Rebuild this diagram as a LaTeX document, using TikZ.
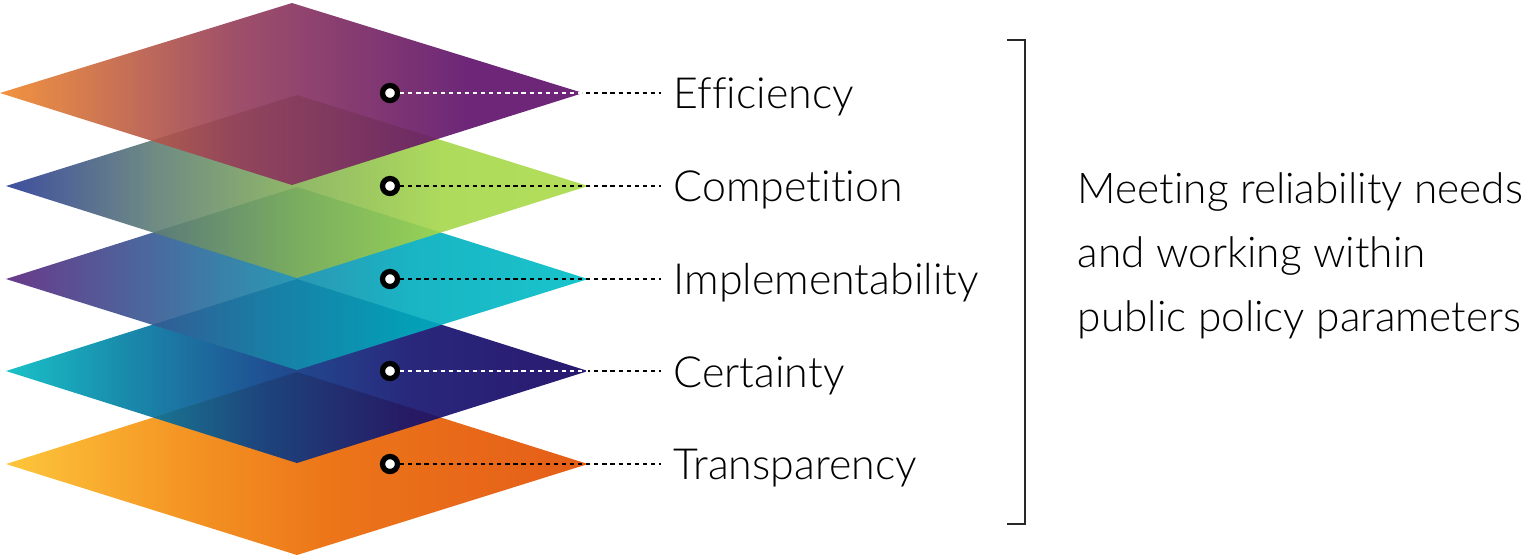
\documentclass[tikz,border=0pt]{standalone}
\usepackage{fontspec}
\setmainfont{Lato Light}[Ligatures=NoCommon]
\usepackage{tikz}
\usetikzlibrary{positioning}

\definecolor{effL}{RGB}{240,136,43}
\definecolor{effM}{RGB}{149,61,89}
\definecolor{effR}{RGB}{94,16,105}
\definecolor{comL}{RGB}{41,59,149}
\definecolor{comA}{RGB}{94,125,119}
\definecolor{comM}{RGB}{132,176,87}
\definecolor{comB}{RGB}{165,215,74}
\definecolor{comR}{RGB}{169,218,72}
\definecolor{impL}{RGB}{89,36,125}
\definecolor{impA}{RGB}{54,89,147}
\definecolor{impM}{RGB}{25,132,167}
\definecolor{impB}{RGB}{0,173,190}
\definecolor{impR}{RGB}{0,190,198}
\definecolor{cerL}{RGB}{0,187,194}
\definecolor{cerA}{RGB}{0,127,163}
\definecolor{cerM}{RGB}{7,60,134}
\definecolor{cerB}{RGB}{18,16,109}
\definecolor{cerR}{RGB}{18,0,96}
\definecolor{trnL}{RGB}{253,192,38}
\definecolor{trnA}{RGB}{243,138,12}
\definecolor{trnM}{RGB}{234,103,0}
\definecolor{trnR}{RGB}{225,76,0}
\definecolor{bracketgray}{RGB}{40,40,40}

\pgfdeclarehorizontalshading{effshade}{100bp}{color(0bp)=(effL); color(25bp)=(effL); color(45bp)=(effM); color(65bp)=(effR); color(100bp)=(effR)}
\pgfdeclarehorizontalshading{comshade}{100bp}{color(0bp)=(comL); color(25bp)=(comL); color(37.5bp)=(comA); color(50bp)=(comM); color(62.5bp)=(comB); color(75bp)=(comR); color(100bp)=(comR)}
\pgfdeclarehorizontalshading{impshade}{100bp}{color(0bp)=(impL); color(25bp)=(impL); color(37.5bp)=(impA); color(47.5bp)=(impM); color(60bp)=(impB); color(75bp)=(impR); color(100bp)=(impR)}
\pgfdeclarehorizontalshading{cershade}{100bp}{color(0bp)=(cerL); color(25bp)=(cerL); color(35bp)=(cerA); color(47.5bp)=(cerM); color(60bp)=(cerB); color(75bp)=(cerR); color(100bp)=(cerR)}
\pgfdeclarehorizontalshading{trnshade}{100bp}{color(0bp)=(trnL); color(25bp)=(trnL); color(40bp)=(trnA); color(52.5bp)=(trnM); color(75bp)=(trnR); color(100bp)=(trnR)}

\tikzset{
  layer/.style={fill opacity=0.9},
  dot/.style={circle,draw=black,fill=white,line width=1.5pt,minimum size=0.15cm,inner sep=0pt},
  lab/.style={anchor=base west,inner ysep=0pt,inner xsep=0.12cm,font=\fontsize{12.2}{14}\selectfont},
  conn/.style={line width=0.65pt,dash pattern=on 1.2pt off 1.1pt},
}

\begin{document}
\begin{tikzpicture}[x=0.01cm,y=-0.01cm]
\useasboundingbox (0,0) rectangle (1528,556);
\shade[layer,shading=trnshade] (6,464) -- (297,372) -- (588,464) -- (297,555) -- cycle;
\shade[layer,shading=cershade] (6,371) -- (297,279) -- (588,371) -- (297,463) -- cycle;
\shade[layer,shading=impshade] (6,279) -- (297,187) -- (588,279) -- (297,370) -- cycle;
\shade[layer,shading=comshade] (6,186) -- (297,95) -- (588,186) -- (297,278) -- cycle;
\shade[layer,shading=effshade] (0,93) -- (292,3) -- (583,93) -- (292,185) -- cycle;
\coordinate (tipE) at (583,93);
\coordinate (tipC) at (588,371);

\node[dot] (dotE) at (390,93) {};
\node[dot] (dotC) at (390,186) {};
\node[dot] (dotI) at (390,279) {};
\node[dot] (dotCe) at (390,371) {};
\node[dot] (dotT) at (390,464) {};

\node[lab] (labE) at (661,108) {Efficiency};
\node[lab] (labC) at (661,201) {Competition};
\node[lab] (labI) at (661,294) {Implementability};
\node[lab] (labCe) at (661,387) {Certainty};
\node[lab] (labT) at (661,479) {Transparency};

\draw[conn] (dotE) -- (dotE -| labE.west);
\draw[conn] (dotC) -- (dotC -| labC.west);
\draw[conn] (dotI) -- (dotI -| labI.west);
\draw[conn] (dotCe) -- (dotCe -| labCe.west);
\draw[conn] (dotT) -- (dotT -| labT.west);
\draw[conn,white] (dotE) -- (tipE);
\draw[conn,white] (dotCe) -- (tipC);

\draw[bracketgray,line width=0.6pt] (1007,40) -- (1025,40) -- (1025,524) -- (1007,524);
\node[anchor=base west,inner sep=0pt,align=left,font=\fontsize{12.05}{18.2}\selectfont] (goal) at (1077,331)
  {Meeting reliability needs\\and working within\\public policy parameters};
\end{tikzpicture}
\end{document}
